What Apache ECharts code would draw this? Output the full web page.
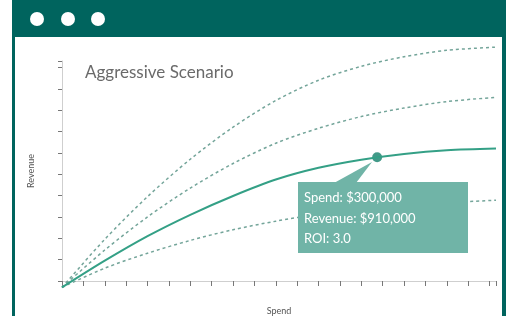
<html>

<head>
  <script src="https://cdn.jsdelivr.net/npm/echarts@6/dist/echarts.min.js"></script>
  <style>
    body { margin: 0; background: #fff; }
  </style>
</head>

<body>
  <div id="main" style="width: 512px;height:316px;"></div>
  <script>
    // spend steps along x (axis units), revenue curves in axis units
    var spendSteps = [0, 2, 4, 6, 8, 10, 12, 14, 16, 18, 20.3];
    var baseCase = [-0.3, 0.95, 2.1, 3.1, 3.98, 4.75, 5.3, 5.68, 5.95, 6.12, 6.2];
    var highCase = [-0.3, 1.95, 3.95, 5.7, 7.2, 8.45, 9.4, 10.05, 10.5, 10.8, 10.95];
    var midCase = [-0.3, 1.45, 3.0, 4.35, 5.5, 6.45, 7.15, 7.7, 8.1, 8.4, 8.6];
    var lowCase = [-0.3, 0.6, 1.3, 1.9, 2.4, 2.8, 3.12, 3.36, 3.54, 3.67, 3.78];
    var pickedPoint = [14.74, 5.79];
    var tipLines = ['Spend: $300,000', 'Revenue: $910,000', 'ROI: 3.0'];

    var teal = '#00645e';
    var myChart = echarts.init(document.getElementById('main'));

    function pair(ys) {
      return ys.map((y, i) => [spendSteps[i], y]);
    }

    function dashed(name, ys) {
      return {
        name: name,
        type: 'line',
        smooth: 0.3,
        showSymbol: false,
        clip: false,
        lineStyle: { color: '#74a59a', width: 1.5, type: [3, 3] },
        data: pair(ys)
      }
    }

    option = {
      animation: false,
      title: {
        text: 'Aggressive Scenario',
        left: 80,
        top: 55,
        textStyle: { fontFamily: 'Lato', fontSize: 17, fontWeight: 'normal', color: '#6a6a6a' }
      },
      grid: { left: 62, right: 16, top: 61, bottom: 35, containLabel: false, outerBoundsMode: 'none' },
      xAxis: {
        type: 'value',
        min: 0,
        max: 20.3,
        interval: 1,
        offset: 7,
        name: 'Spend',
        nameLocation: 'middle',
        nameGap: 16,
        nameTextStyle: { fontFamily: 'Lato', fontSize: 9, color: '#555' },
        axisLine: { show: true, lineStyle: { color: '#cfcfcf' } },
        axisTick: { show: true, length: 5, lineStyle: { color: '#777' } },
        axisLabel: { show: false },
        splitLine: { show: false }
      },
      yAxis: {
        type: 'value',
        min: 0,
        max: 10.3,
        interval: 1,
        offset: 4,
        name: 'Revenue',
        nameLocation: 'middle',
        nameGap: 20,
        nameRotate: 90,
        nameTextStyle: { fontFamily: 'Lato', fontSize: 9, color: '#555' },
        axisLine: { show: true, lineStyle: { color: '#cfcfcf' } },
        axisTick: { show: true, length: 4, lineStyle: { color: '#777' } },
        axisLabel: { show: false },
        splitLine: { show: false }
      },
      series: [
        dashed('High', highCase),
        dashed('Mid', midCase),
        dashed('Low', lowCase),
        {
          name: 'Aggressive',
          type: 'line',
          smooth: 0.3,
          showSymbol: false,
          clip: false,
          lineStyle: { color: '#34a086', width: 2 },
          data: pair(baseCase)
        },
        {
          name: 'Pick',
          type: 'scatter',
          symbolSize: 10,
          clip: false,
          itemStyle: { color: '#137f6a' },
          data: [pickedPoint]
        }
      ],
      graphic: [
        { type: 'rect', shape: { x: 12, y: 0, width: 494, height: 37 }, style: { fill: teal } },
        { type: 'rect', shape: { x: 12, y: 0, width: 3, height: 316 }, style: { fill: teal } },
        { type: 'rect', shape: { x: 502, y: 0, width: 4, height: 316 }, style: { fill: teal } },
        { type: 'circle', shape: { cx: 37, cy: 19, r: 7 }, style: { fill: '#fff' } },
        { type: 'circle', shape: { cx: 68, cy: 19, r: 7 }, style: { fill: '#fff' } },
        { type: 'circle', shape: { cx: 98, cy: 19, r: 7 }, style: { fill: '#fff' } },
        { type: 'polygon', z: 10, shape: { points: [[334, 183], [356, 183], [372, 162]] }, style: { fill: '#70b4a7' } },
        { type: 'rect', z: 10, shape: { x: 298, y: 182, width: 170, height: 71 }, style: { fill: '#70b4a7' } },
        {
          type: 'text', z: 11, left: 304, top: 188,
          style: { text: tipLines.join('\n'), fill: '#fff', font: '13px Lato', lineHeight: 20.5 }
        }
      ]
    };

    myChart.setOption(option);

  </script>
</body>

</html>
